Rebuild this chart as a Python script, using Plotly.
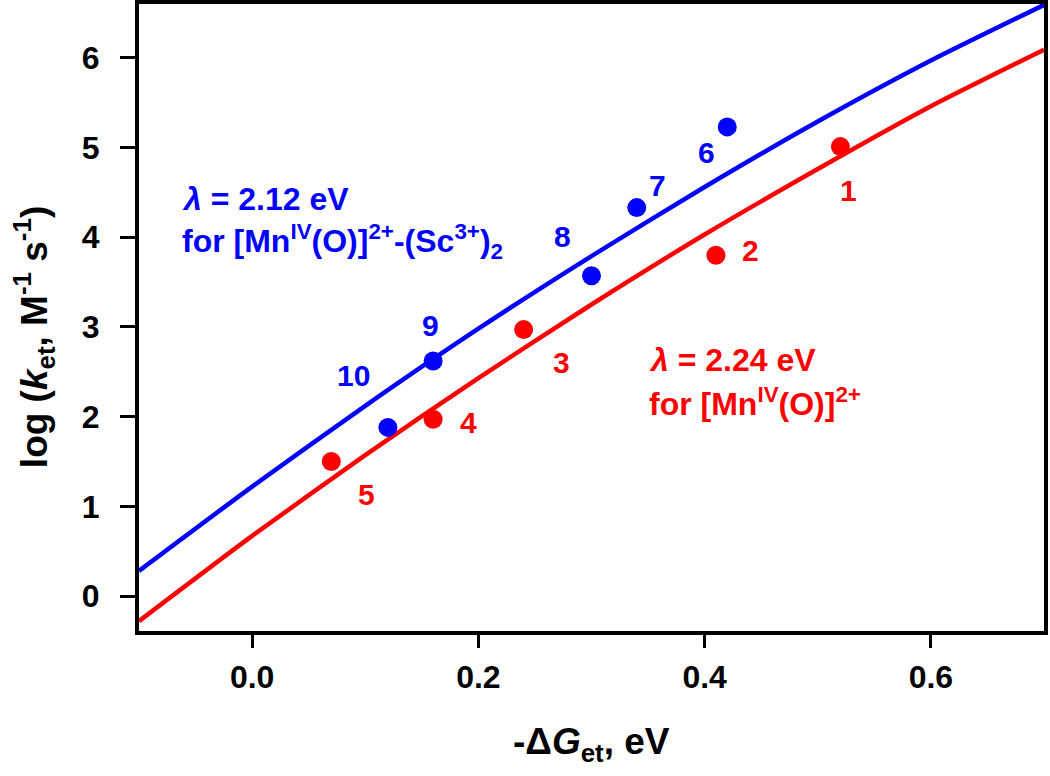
import plotly.graph_objects as go

# Data points
red_x = [0.52, 0.41, 0.24, 0.16, 0.07]
red_y = [5.01, 3.80, 2.97, 1.97, 1.50]
red_labels = ["1", "2", "3", "4", "5"]

blue_x = [0.42, 0.34, 0.30, 0.16, 0.12]
blue_y = [5.23, 4.33, 3.57, 2.62, 1.88]
blue_labels = ["6", "7", "8", "9", "10"]

# Fitted curves
curve_x = [-0.1, 0.0, 0.1, 0.2, 0.3, 0.4, 0.5, 0.6, 0.7]
red_curve_y = [-0.28, 0.67, 1.57, 2.43, 3.25, 4.03, 4.76, 5.46, 6.09]
blue_curve_y = [0.28, 1.22, 2.12, 2.98, 3.79, 4.56, 5.29, 5.97, 6.59]

x_ticks = [0.0, 0.2, 0.4, 0.6]
x_tick_text = ["0.0", "0.2", "0.4", "0.6"]
y_ticks = [0, 1, 2, 3, 4, 5, 6]

# label pixel offsets relative to points (style)
red_offsets = [(8, -44), (35, 5), (38, -33), (35, -3), (35, -33)]
blue_offsets = [(-21, -26), (21, 22), (-29, 39), (-3, 36), (-34, 52)]

RED = "#ff0000"
BLUE = "#0000ff"
FONT = "Liberation Sans, Arial, sans-serif"

fig = go.Figure()
fig.add_trace(go.Scatter(x=curve_x, y=blue_curve_y, mode="lines",
                         line=dict(color=BLUE, width=4.5, shape="spline", smoothing=0.6),
                         showlegend=False, hoverinfo="skip"))
fig.add_trace(go.Scatter(x=curve_x, y=red_curve_y, mode="lines",
                         line=dict(color=RED, width=4.5, shape="spline", smoothing=0.6),
                         showlegend=False, hoverinfo="skip"))
fig.add_trace(go.Scatter(x=red_x, y=red_y, mode="markers",
                         marker=dict(color=RED, size=19), showlegend=False))
fig.add_trace(go.Scatter(x=blue_x, y=blue_y, mode="markers",
                         marker=dict(color=BLUE, size=19), showlegend=False))

annotations = []
for xv, yv, lab, (dx, dy) in zip(red_x, red_y, red_labels, red_offsets):
    annotations.append(dict(x=xv, y=yv, text=lab, showarrow=False,
                            xshift=dx, yshift=dy,
                            font=dict(family=FONT, size=30, color=RED, weight="bold")))
for xv, yv, lab, (dx, dy) in zip(blue_x, blue_y, blue_labels, blue_offsets):
    annotations.append(dict(x=xv, y=yv, text=lab, showarrow=False,
                            xshift=dx, yshift=dy,
                            font=dict(family=FONT, size=30, color=BLUE, weight="bold")))

annotations += [
    dict(x=-0.064, y=4.43, xanchor="left", yanchor="middle", showarrow=False,
         text="<i>λ</i> = 2.12 eV",
         font=dict(family=FONT, size=32, color=BLUE, weight="bold")),
    dict(x=-0.064, y=3.95, xanchor="left", yanchor="middle", showarrow=False,
         text="for [Mn<sup>IV</sup>(O)]<sup>2+</sup>-(Sc<sup>3+</sup>)<sub>2</sub>",
         font=dict(family=FONT, size=32, color=BLUE, weight="bold")),
    dict(x=0.349, y=2.63, xanchor="left", yanchor="middle", showarrow=False,
         text="<i>λ</i> = 2.24 eV",
         font=dict(family=FONT, size=32, color=RED, weight="bold")),
    dict(x=0.349, y=2.16, xanchor="left", yanchor="middle", showarrow=False,
         text="for [Mn<sup>IV</sup>(O)]<sup>2+</sup>",
         font=dict(family=FONT, size=32, color=RED, weight="bold")),
    # axis titles
    dict(xref="paper", yref="paper", x=0.4995, y=-0.181, xanchor="center", yanchor="middle",
         showarrow=False, text="-Δ<i>G</i><sub>et</sub>, eV",
         font=dict(family=FONT, size=37, color="black", weight="bold")),
    dict(xref="paper", yref="paper", x=-0.1158, y=0.469, xanchor="center", yanchor="middle",
         showarrow=False, textangle=-90,
         text="log (<i>k</i><sub>et</sub>, M<sup>-1</sup> s<sup>-1</sup>)",
         font=dict(family=FONT, size=37, color="black", weight="bold")),
]

fig.update_layout(
    width=1050, height=776,
    margin=dict(l=139, r=6, t=4, b=145, autoexpand=False),
    plot_bgcolor="white", paper_bgcolor="white",
    annotations=annotations,
    font=dict(family=FONT, color="black"),
)
fig.update_xaxes(
    range=[-0.1, 0.7], showgrid=False, zeroline=False, automargin=False,
    showline=True, linecolor="black", linewidth=4, mirror=True,
    ticks="outside", ticklen=13, tickwidth=3, tickcolor="black",
    tickvals=x_ticks, ticktext=x_tick_text, ticklabelstandoff=2,
    tickfont=dict(family=FONT, size=32, color="black", weight="bold"),
)
fig.update_yaxes(
    range=[-0.39, 6.6], showgrid=False, zeroline=False, automargin=False,
    showline=True, linecolor="black", linewidth=4, mirror=True,
    ticks="outside", ticklen=15, tickwidth=3, tickcolor="black",
    tickvals=y_ticks, ticklabelstandoff=14,
    tickfont=dict(family=FONT, size=32, color="black", weight="bold"),
)

fig.write_html("out.html", config={"displayModeBar": False},
               post_script="document.body.style.margin='0';document.body.style.padding='0';")
